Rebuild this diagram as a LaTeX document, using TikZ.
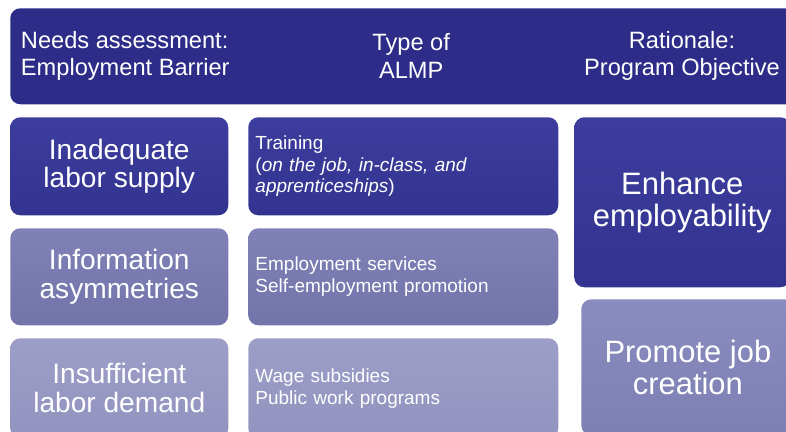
\documentclass[tikz,border=0pt]{standalone}
\usepackage{fontspec}
\setmainfont{Liberation Sans}

\definecolor{hdrblue}{HTML}{2D2C88}
\definecolor{darkA}{HTML}{3D3D9E}
\definecolor{darkB}{HTML}{333390}
\definecolor{midA}{HTML}{8081B7}
\definecolor{midB}{HTML}{7374AA}
\definecolor{lightA}{HTML}{9D9EC8}
\definecolor{lightB}{HTML}{9293BE}
\definecolor{promA}{HTML}{8A8BBE}
\definecolor{promB}{HTML}{7E7FB3}

\begin{document}
\begin{tikzpicture}[
  box/.style={rounded corners=0.25cm, inner sep=0pt, text=white, anchor=north west},
  hdr/.style={box, fill=hdrblue},
  row1/.style={box, top color=darkA, bottom color=darkB},
  row2/.style={box, top color=midA, bottom color=midB},
  row3/.style={box, top color=lightA, bottom color=lightB},
  prom/.style={box, top color=promA, bottom color=promB},
  barrier/.style={minimum width=5.45cm, align=center, font=\fontsize{20}{20.5}\selectfont},
  almp/.style={text width=7.39cm, inner xsep=0.18cm, align=left, font=\fontsize{13.5}{15.5}\selectfont},
  goal/.style={align=center, font=\fontsize{22}{22.5}\selectfont},
  htext/.style={text=white, font=\fontsize{16.8}{19.5}\selectfont}
]
\useasboundingbox (0,0) rectangle (19.65,10.8);
\clip (0,0) rectangle (19.65,10.8);

%======================
% HEADER
%======================

\node[hdr, minimum width=20cm, minimum height=2.4cm] (header) at (0.25,10.6) {};
\node[htext, anchor=west, align=left] (hneeds) at (0.4,9.4) {Needs assessment:\\Employment Barrier};
\node[htext, align=center] (htype) at (10.28,9.4) {Type of\\ALMP};
\node[htext, align=center] (hrat) at (17.05,9.4) {Rationale:\\Program Objective};

%======================
% LEFT: BARRIERS
%======================

\node[row1, barrier, minimum height=2.45cm] (supply) at (0.25,7.875) {Inadequate\\labor supply};
\node[row2, barrier, minimum height=2.425cm] (asym) at (0.25,5.1) {Information\\asymmetries};
\node[row3, barrier, minimum height=2.5cm] (demand) at (0.25,2.35) {Insufficient\\labor demand};

%======================
% MIDDLE: TYPE OF ALMP
%======================

\node[row1, almp, minimum height=2.45cm] (training) at (6.2,7.875)
  {Training\\(\textit{on the job, in-class, and}\\\textit{apprenticeships})};
\node[row2, almp, minimum height=2.425cm] (services) at (6.2,5.1)
  {Employment services\\Self-employment promotion};
\node[row3, almp, minimum height=2.5cm] (wage) at (6.2,2.35)
  {Wage subsidies\\Public work programs};

%======================
% RIGHT: OBJECTIVES
%======================

\node[row1, goal, minimum width=5.4cm, minimum height=4.25cm] (enhance) at (14.35,7.875)
  {Enhance\\employability};
\node[prom, goal, minimum width=5.33cm, minimum height=3.4cm] (promote) at (14.525,3.325)
  {Promote job\\creation};

\end{tikzpicture}
\end{document}
